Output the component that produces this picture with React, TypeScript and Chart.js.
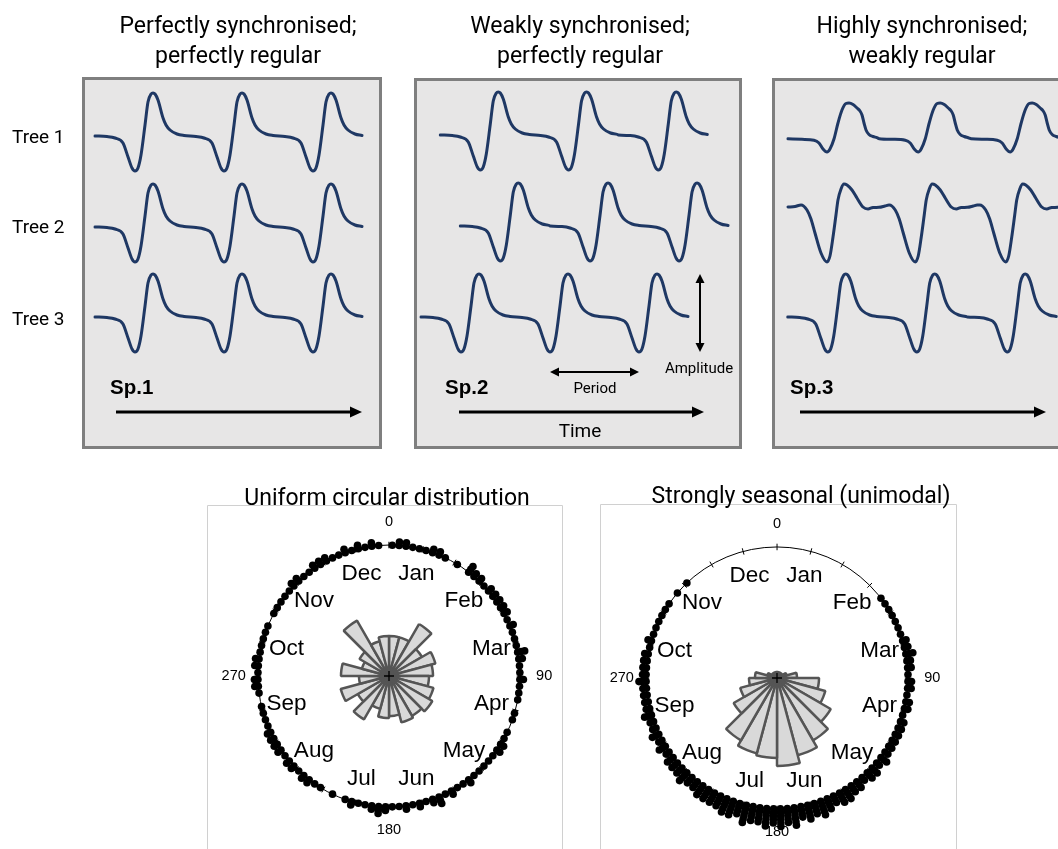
import React, { useEffect, useRef } from "react";
import { Chart, registerables } from "chart.js";

Chart.register(...registerables);

// ===================== DATA =====================
const panelTitles = [
  ["Perfectly synchronised;", "perfectly regular"],
  ["Weakly synchronised;", "perfectly regular"],
  ["Highly synchronised;", "weakly regular"],
];
const speciesLabels = ["Sp.1", "Sp.2", "Sp.3"];
const treeLabels = ["Tree 1", "Tree 2", "Tree 3"];
const timeLabel = "Time";
const periodLabel = "Period";
const amplitudeLabel = "Amplitude";

// One stem cycle: time relative to the stem minimum (months) and stem variation (a.u.)
const regularCycleTime = [-5.39, -3.78, -2.7, -1.62, -0.94, -0.4, 0, 0.4, 0.81, 1.35, 1.75, 2.16, 2.43, 2.7, 3.1, 3.78, 4.18, 4.72, 5.66, 6.61];
const regularCycleValue = [0, -0.05, -0.2, -0.7, -2.1, -3.2, -3.5, -3.2, -1.9, 1.1, 3.4, 4.2, 4.3, 4.2, 3.6, 1.8, 1.1, 0.6, 0.2, 0.05];

// Sp.3, tree 1: shallow minimum, flat-topped maximum
const flatCycleTime = [-5.26, -3.37, -1.75, -1.08, -0.54, 0, 0.4, 0.94, 1.48, 2.02, 2.56, 2.97, 3.51, 4.04, 4.45, 4.72, 4.99, 5.26, 5.66, 6.2, 6.74];
const flatCycleValue = [0.03, -0.03, -0.12, -0.4, -1.0, -1.3, -1.0, 0, 1.6, 2.9, 3.55, 3.6, 3.45, 3.1, 2.8, 2.4, 1.6, 0.9, 0.45, 0.25, 0.13];

// Sp.3, tree 2: deep minimum, small maximum with a notch afterwards
const notchCycleTime = [-5.26, -4.31, -3.5, -2.7, -2.16, -1.62, -0.81, 0, 0.4, 0.81, 1.21, 1.48, 1.89, 2.29, 2.7, 3.37, 4.04, 4.85, 5.53, 6.2, 7.01, 7.82, 8.36];
const notchCycleValue = [0, 0.05, 0.2, -0.3, -1.2, -2.6, -4.6, -5.5, -4.9, -3.0, -0.8, 0.7, 1.8, 2.3, 2.2, 1.7, 0.9, 0, -0.2, -0.05, -0.03, 0.1, 0.2];

// Times of stem minima (months) for Tree 1, Tree 2, Tree 3
const sp1Minima = [[0, 12, 24], [0, 12, 24], [0, 12, 24]];
const sp2Minima = [[2.6, 14.5, 26.6], [5.3, 17.4, 29.4], [0, 12, 24]];
const sp3Minima = [[0, 12.3, 24.7], [0, 11.9, 24.1], [0.1, 12.1, 24.3]];

const circularTitles = ["Uniform circular distribution", "Strongly seasonal (unimodal)"];
const monthLabels = ["Jan", "Feb", "Mar", "Apr", "May", "Jun", "Jul", "Aug", "Sep", "Oct", "Nov", "Dec"];
const degreeLabels = ["0", "90", "180", "270"];

// Rose diagram: counts in 24 bins of 15 degrees (clockwise from 0)
const uniformRose = [20, 20, 30, 19, 24, 22, 20, 23, 25, 23, 24, 20, 21, 17, 25, 18, 25, 15, 24, 14, 17, 32, 18, 20];
const seasonalRose = [3, 3, 3, 3, 5, 10, 21, 25, 31, 36, 40, 44, 40, 39, 36, 25, 19, 14, 11, 5, 3, 3, 3, 3];

// Stacked observations: counts in 120 bins of 3 degrees
const uniformDots = [
  1, 2, 2, 1, 1, 1, 2, 2, 1, 0, 1, 0, 3, 2, 2, 1, 2, 2, 2, 2,
  2, 1, 2, 1, 1, 1, 3, 2, 1, 1, 2, 1, 1, 1, 0, 1, 1, 0, 1, 1,
  2, 2, 1, 1, 1, 1, 1, 2, 1, 1, 2, 1, 3, 2, 1, 2, 1, 2, 1, 1,
  2, 3, 2, 1, 1, 2, 1, 0, 1, 0, 1, 1, 2, 2, 1, 2, 2, 1, 2, 2,
  2, 2, 1, 1, 1, 1, 0, 1, 2, 2, 1, 2, 2, 1, 1, 1, 1, 1, 0, 1,
  1, 1, 1, 1, 2, 2, 1, 1, 2, 2, 2, 1, 1, 2, 1, 2, 1, 2, 1, 0,
];
const seasonalDots = [
  0, 0, 0, 0, 0, 0, 0, 0, 0, 0, 0, 0, 0, 0, 0,
  0, 0, 1, 1, 1, 1, 1, 1, 1, 2, 2, 3, 2, 2, 1, 2, 2, 1, 2, 2,
  1, 2, 2, 2, 2, 2, 2, 3, 2, 3, 3, 2, 3, 3, 4, 4, 3, 4, 5, 4,
  5, 4, 6, 5, 6, 5, 6, 5, 5, 6, 4, 5, 5, 4, 4, 4, 4, 3, 3, 4,
  3, 3, 3, 2, 3, 2, 3, 2, 2, 3, 2, 2, 2, 2, 3, 2, 2, 2, 2, 1,
  2, 1, 1, 1, 1, 1, 1, 0, 1, 0, 1, 0,
  0, 0, 0, 0, 0, 0, 0, 0, 0, 0, 0, 0, 0,
];

// ===================== LAYOUT / STYLE =====================
const PX_PER_MONTH = 89 / 12;
const PX_PER_UNIT = 10;
const LINE_COLOR = "#1f3864";
const TITLE_FONT = "Roboto, 'Noto Sans', sans-serif";
const R_FONT = "'Liberation Sans', Arial, sans-serif";

const cycleShapes: Record<string, { t: number[]; v: number[] }> = {
  regular: { t: regularCycleTime, v: regularCycleValue },
  flat: { t: flatCycleTime, v: flatCycleValue },
  notch: { t: notchCycleTime, v: notchCycleValue },
};

const topPanels = [
  { left: 82, top: 77, width: 300, height: 372, t0px: 53, base: 59, rows: [0, -9.1, -18.1], minima: sp1Minima, shapes: ["regular", "regular", "regular"], arrow: [34, 280], arrowY: 335, annotate: false },
  { left: 414, top: 78, width: 328, height: 371, t0px: 47, base: 57, rows: [0, -9.1, -18.2], minima: sp2Minima, shapes: ["regular", "regular", "regular"], arrow: [45, 290], arrowY: 334, annotate: true },
  { left: 772, top: 78, width: 300, height: 371, t0px: 55, base: 61, rows: [0, -6.8, -17.8], minima: sp3Minima, shapes: ["flat", "notch", "regular"], arrow: [28, 274], arrowY: 334, annotate: false },
];

const circularPanels = [
  { left: 207, top: 505, width: 356, height: 344, cx: 182, cy: 171, rose: uniformRose, dots: uniformDots },
  { left: 600, top: 504, width: 357, height: 345, cx: 177, cy: 174, rose: seasonalRose, dots: seasonalDots },
];
const CIRCLE_PX = 134;
const ROSE_BOX = 200;

function buildSeries(minima: number[], t: number[], v: number[], offset: number) {
  const pts: { x: number; y: number }[] = [];
  for (const m of minima) {
    for (let i = 0; i < t.length; i++) {
      const x = m + t[i];
      if (pts.length && x <= pts[pts.length - 1].x) continue;
      pts.push({ x, y: v[i] + offset });
    }
  }
  return pts;
}

function drawArrow(ctx: CanvasRenderingContext2D, x0: number, y0: number, x1: number, y1: number, lw: number, hl: number, hw: number, both: boolean) {
  const len = Math.hypot(x1 - x0, y1 - y0);
  const ux = (x1 - x0) / len, uy = (y1 - y0) / len;
  const px = -uy, py = ux;
  ctx.save();
  ctx.strokeStyle = "#000";
  ctx.fillStyle = "#000";
  ctx.lineWidth = lw;
  ctx.beginPath();
  const sx = both ? x0 + ux * hl * 0.8 : x0;
  const sy = both ? y0 + uy * hl * 0.8 : y0;
  ctx.moveTo(sx, sy);
  ctx.lineTo(x1 - ux * hl * 0.8, y1 - uy * hl * 0.8);
  ctx.stroke();
  const head = (tx: number, ty: number, dx: number, dy: number) => {
    ctx.beginPath();
    ctx.moveTo(tx, ty);
    ctx.lineTo(tx - dx * hl + px * hw, ty - dy * hl + py * hw);
    ctx.lineTo(tx - dx * hl - px * hw, ty - dy * hl - py * hw);
    ctx.closePath();
    ctx.fill();
  };
  head(x1, y1, ux, uy);
  if (both) head(x0, y0, -ux, -uy);
  ctx.restore();
}

function TopPanel({ cfg }: { cfg: (typeof topPanels)[number] }) {
  const ref = useRef<HTMLCanvasElement>(null);
  useEffect(() => {
    const xMin = -cfg.t0px / PX_PER_MONTH;
    const xMax = xMin + cfg.width / PX_PER_MONTH;
    const yMax = cfg.base / PX_PER_UNIT;
    const yMin = yMax - cfg.height / PX_PER_UNIT;
    const datasets = cfg.minima.map((m, i) => {
      const s = cycleShapes[cfg.shapes[i]];
      return {
        label: treeLabels[i],
        data: buildSeries(m, s.t, s.v, cfg.rows[i]),
        borderColor: LINE_COLOR,
        borderWidth: 3,
        pointRadius: 0,
        fill: false,
        cubicInterpolationMode: "monotone" as const,
        borderCapStyle: "round" as const,
      };
    });
    const deco = {
      id: "panelDeco",
      beforeDraw(chart: any) {
        const { ctx, width, height } = chart;
        ctx.save();
        ctx.fillStyle = "#e7e6e6";
        ctx.fillRect(0, 0, width, height);
        ctx.strokeStyle = "#7f7f7f";
        ctx.lineWidth = 3;
        ctx.strokeRect(1.5, 1.5, width - 3, height - 3);
        ctx.restore();
      },
      afterDraw(chart: any) {
        const ctx = chart.ctx;
        drawArrow(ctx, cfg.arrow[0], cfg.arrowY, cfg.arrow[1], cfg.arrowY, 3, 12, 5.5, false);
        if (cfg.annotate) {
          const xs = chart.scales.x, ys = chart.scales.y;
          const m3 = cfg.minima[2];
          drawArrow(ctx, xs.getPixelForValue(m3[1]), 294, xs.getPixelForValue(m3[2]), 294, 2, 9, 4.5, true);
          const s = cycleShapes[cfg.shapes[2]];
          const top = ys.getPixelForValue(cfg.rows[2] + Math.max(...s.v));
          const bot = ys.getPixelForValue(cfg.rows[2] + Math.min(...s.v));
          drawArrow(ctx, 286, top, 286, bot, 2, 9, 4.5, true);
        }
      },
    };
    const chart = new Chart(ref.current as HTMLCanvasElement, {
      type: "line",
      data: { datasets },
      options: {
        animation: false,
        responsive: false,
        maintainAspectRatio: false,
        layout: { padding: 0 },
        plugins: { legend: { display: false }, tooltip: { enabled: false } },
        scales: {
          x: { type: "linear", min: xMin, max: xMax, display: false },
          y: { type: "linear", min: yMin, max: yMax, display: false },
        },
      },
      plugins: [deco],
    } as any);
    return () => chart.destroy();
  }, []);
  return (
    <canvas
      ref={ref}
      width={cfg.width}
      height={cfg.height}
      style={{ position: "absolute", left: cfg.left, top: cfg.top, width: cfg.width, height: cfg.height }}
    />
  );
}

function stackedPoints(counts: number[], step: number) {
  const bin = 360 / counts.length;
  const pts: { x: number; y: number }[] = [];
  counts.forEach((c, i) => {
    const a = ((i + 0.5) * bin * Math.PI) / 180;
    for (let k = 0; k < c; k++) {
      const r = 1 + k * step;
      pts.push({ x: r * Math.sin(a), y: r * Math.cos(a) });
    }
  });
  return pts;
}

function CircularPanel({ cfg }: { cfg: (typeof circularPanels)[number] }) {
  const dotRef = useRef<HTMLCanvasElement>(null);
  const roseRef = useRef<HTMLCanvasElement>(null);
  useEffect(() => {
    const xMin = -cfg.cx / CIRCLE_PX;
    const xMax = (cfg.width - cfg.cx) / CIRCLE_PX;
    const yMax = cfg.cy / CIRCLE_PX;
    const yMin = yMax - cfg.height / CIRCLE_PX;
    const geom = (chart: any) => {
      const xs = chart.scales.x, ys = chart.scales.y;
      const cx = xs.getPixelForValue(0), cy = ys.getPixelForValue(0);
      return { cx, cy, R: xs.getPixelForValue(1) - cx };
    };
    const circle = {
      id: "circleDeco",
      beforeDatasetsDraw(chart: any) {
        const { ctx, width, height } = chart;
        const { cx, cy, R } = geom(chart);
        ctx.save();
        ctx.strokeStyle = "#d0d0d0";
        ctx.lineWidth = 1;
        ctx.beginPath();
        ctx.moveTo(0.5, height);
        ctx.lineTo(0.5, 0.5);
        ctx.lineTo(width - 0.5, 0.5);
        ctx.lineTo(width - 0.5, height);
        ctx.stroke();
        ctx.strokeStyle = "#000";
        ctx.beginPath();
        ctx.arc(cx, cy, R, 0, Math.PI * 2);
        ctx.stroke();
        for (let d = 0; d < 360; d += 15) {
          const a = (d * Math.PI) / 180;
          ctx.beginPath();
          ctx.moveTo(cx + R * 0.975 * Math.sin(a), cy - R * 0.975 * Math.cos(a));
          ctx.lineTo(cx + R * 1.025 * Math.sin(a), cy - R * 1.025 * Math.cos(a));
          ctx.stroke();
        }
        ctx.fillStyle = "#000";
        ctx.textAlign = "center";
        ctx.textBaseline = "middle";
        ctx.font = `22.5px ${R_FONT}`;
        monthLabels.forEach((m, i) => {
          const a = ((i * 30 + 15) * Math.PI) / 180;
          ctx.fillText(m, cx + R * 0.81 * Math.sin(a), cy - R * 0.81 * Math.cos(a));
        });
        ctx.restore();
      },
      afterDatasetsDraw(chart: any) {
        const { ctx } = chart;
        const { cx, cy, R } = geom(chart);
        ctx.save();
        ctx.fillStyle = "#000";
        ctx.textAlign = "center";
        ctx.textBaseline = "middle";
        ctx.font = `14.5px ${R_FONT}`;
        degreeLabels.forEach((lab, i) => {
          const a = (i * 90 * Math.PI) / 180;
          ctx.fillText(lab, cx + R * 1.185 * Math.sin(a), cy - R * 1.175 * Math.cos(a));
        });
        ctx.restore();
      },
    };
    const dots = new Chart(dotRef.current as HTMLCanvasElement, {
      type: "scatter",
      data: {
        datasets: [
          {
            data: stackedPoints(cfg.dots, 0.027),
            pointRadius: 3.8,
            pointBackgroundColor: "#000",
            pointBorderWidth: 0,
            clip: false,
          },
        ],
      },
      options: {
        animation: false,
        responsive: false,
        maintainAspectRatio: false,
        layout: { padding: 0 },
        plugins: { legend: { display: false }, tooltip: { enabled: false } },
        scales: {
          x: { type: "linear", min: xMin, max: xMax, display: false },
          y: { type: "linear", min: yMin, max: yMax, display: false },
        },
      },
      plugins: [circle],
    } as any);

    const cross = {
      id: "cross",
      afterDraw(chart: any) {
        const s = chart.scales.r;
        const ctx = chart.ctx;
        ctx.save();
        ctx.strokeStyle = "#000";
        ctx.lineWidth = 1.3;
        ctx.beginPath();
        ctx.moveTo(s.xCenter - 5, s.yCenter);
        ctx.lineTo(s.xCenter + 5, s.yCenter);
        ctx.moveTo(s.xCenter, s.yCenter - 5);
        ctx.lineTo(s.xCenter, s.yCenter + 5);
        ctx.stroke();
        ctx.restore();
      },
    };
    const rose = new Chart(roseRef.current as HTMLCanvasElement, {
      type: "polarArea",
      data: {
        labels: cfg.rose.map((_, i) => `${i * 15}°`),
        datasets: [
          {
            data: cfg.rose,
            backgroundColor: "#d9d9d9",
            borderColor: "#555555",
            borderWidth: 2.5,
          },
        ],
      },
      options: {
        animation: false,
        responsive: false,
        maintainAspectRatio: false,
        layout: { padding: 0 },
        plugins: { legend: { display: false }, tooltip: { enabled: false } },
        scales: {
          r: { display: false, min: 0, max: 50, startAngle: 0, ticks: { display: false } },
        },
      },
      plugins: [cross],
    } as any);
    return () => {
      dots.destroy();
      rose.destroy();
    };
  }, []);
  return (
    <>
      <canvas
        ref={dotRef}
        width={cfg.width}
        height={cfg.height}
        style={{ position: "absolute", left: cfg.left, top: cfg.top, width: cfg.width, height: cfg.height }}
      />
      <canvas
        ref={roseRef}
        width={ROSE_BOX}
        height={ROSE_BOX}
        style={{
          position: "absolute",
          left: cfg.left + cfg.cx - ROSE_BOX / 2,
          top: cfg.top + cfg.cy - ROSE_BOX / 2,
          width: ROSE_BOX,
          height: ROSE_BOX,
        }}
      />
    </>
  );
}

const titleCenters = [238, 580, 922];
const treeBaselines = [143, 233, 325];
const speciesX = [110, 445, 790];
const circularTitleCenters = [387, 801];
const circularTitleBaselines = [505, 503];

export default function App() {
  return (
    <div style={{ position: "absolute", left: 0, top: 0, width: 1058, height: 849, overflow: "hidden", background: "#fff" }}>
      {topPanels.map((p, i) => (
        <TopPanel key={i} cfg={p} />
      ))}
      {circularPanels.map((p, i) => (
        <CircularPanel key={i} cfg={p} />
      ))}
      <svg width={1058} height={849} style={{ position: "absolute", left: 0, top: 0, pointerEvents: "none" }}>
        {panelTitles.map((lines, i) =>
          lines.map((t, j) => (
            <text key={`t${i}${j}`} x={titleCenters[i]} y={33 + j * 30} textAnchor="middle" fontFamily={TITLE_FONT} fontSize={23} fill="#000">
              {t}
            </text>
          ))
        )}
        {treeLabels.map((t, i) => (
          <text key={`tr${i}`} x={12} y={treeBaselines[i]} fontFamily={TITLE_FONT} fontSize={19} fill="#000">
            {t}
          </text>
        ))}
        {speciesLabels.map((t, i) => (
          <text key={`sp${i}`} x={speciesX[i]} y={394} fontFamily={R_FONT} fontWeight="bold" fontSize={20.5} fill="#000">
            {t}
          </text>
        ))}
        <text x={580} y={437} textAnchor="middle" fontFamily={TITLE_FONT} fontSize={19} fill="#000">
          {timeLabel}
        </text>
        <text x={595} y={393} textAnchor="middle" fontFamily={TITLE_FONT} fontSize={15} fill="#000">
          {periodLabel}
        </text>
        <text x={699} y={373} textAnchor="middle" fontFamily={TITLE_FONT} fontSize={15} fill="#000">
          {amplitudeLabel}
        </text>
        {circularTitles.map((t, i) => (
          <text key={`ct${i}`} x={circularTitleCenters[i]} y={circularTitleBaselines[i]} textAnchor="middle" fontFamily={TITLE_FONT} fontSize={23} fill="#000">
            {t}
          </text>
        ))}
      </svg>
    </div>
  );
}
